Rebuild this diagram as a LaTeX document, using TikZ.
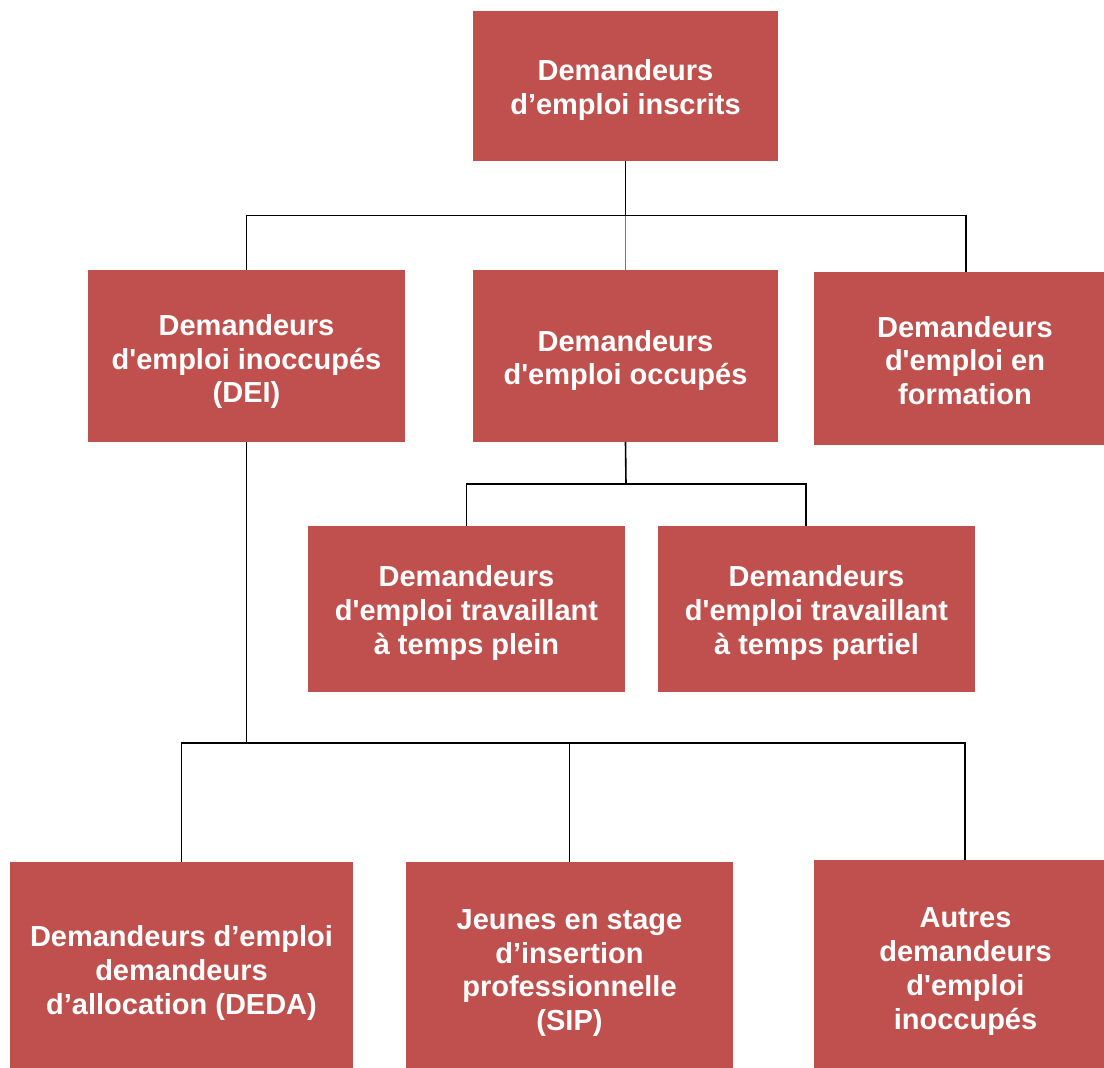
\documentclass[tikz,border=0pt]{standalone}
\usepackage{fontspec}
\newfontfamily\arialb{Liberation Sans}[BoldFont={Liberation Sans Bold}]
\definecolor{boxred}{HTML}{C0504D}
\definecolor{lineblue}{HTML}{4F81BD}
\begin{document}
\begin{tikzpicture}[x=1pt,y=-1pt,
  box/.style={fill=boxred, draw=none, inner sep=0pt},
  boxtext/.style={inner sep=0pt, align=center, text=white,
    font=\arialb\bfseries\fontsize{29}{33.7}\selectfont},
  conn/.style={draw=black, line width=1.6pt}]
\useasboundingbox (0,0) rectangle (1104,1068);
\node[box, minimum width=305pt, minimum height=150pt] (top) at (625.5,86) {};
\node[box, minimum width=317pt, minimum height=172pt] (dei) at (246.5,356) {};
\node[box, minimum width=305pt, minimum height=172pt] (occ) at (625.5,356) {};
\node[box, minimum width=290pt, minimum height=173pt] (form) at (959,358.5) {};
\node[box, minimum width=317pt, minimum height=166pt] (plein) at (466.5,609) {};
\node[box, minimum width=317pt, minimum height=166pt] (partiel) at (816.5,609) {};
\node[box, minimum width=343pt, minimum height=206pt] (deda) at (181.5,965) {};
\node[box, minimum width=327pt, minimum height=206pt] (sip) at (569.5,965) {};
\node[box, minimum width=290pt, minimum height=208pt] (autres) at (959,964) {};
\node[boxtext] (topT) at ([yshift=-4pt]top.center) {Demandeurs\\d’emploi inscrits};
\node[boxtext] (deiT) at ([yshift=-5.5pt]dei.center) {Demandeurs\\d'emploi inoccupés\\(DEI)};
\node[boxtext] (occT) at ([yshift=-4.5pt]occ.center) {Demandeurs\\d'emploi occupés};
\node[boxtext] (formT) at ([xshift=6pt,yshift=-2pt]form.center) {Demandeurs\\d'emploi en\\formation};
\node[boxtext] (pleinT) at ([yshift=-4pt]plein.center) {Demandeurs\\d'emploi travaillant\\à temps plein};
\node[boxtext] (partielT) at ([yshift=-4pt]partiel.center) {Demandeurs\\d'emploi travaillant\\à temps partiel};
\node[boxtext] (dedaT) at ([yshift=-8pt]deda.center) {Demandeurs d’emploi\\demandeurs\\d’allocation (DEDA)};
\node[boxtext] (sipT) at ([yshift=-8pt]sip.center) {Jeunes en stage\\d’insertion\\professionnelle\\(SIP)};
\node[boxtext] (autresT) at ([xshift=6.5pt,yshift=-7.5pt]autres.center) {Autres\\demandeurs\\d'emploi\\inoccupés};
\coordinate (j1) at (625.5,215.5);
\coordinate (j2) at (626,484);
\coordinate (j3) at (246.5,743);
\draw[conn] (top.south) -- (j1);
\draw[conn] (j1) -| (dei.north);
\draw[conn] (j1) -| ([xshift=7pt]form.north);
\draw[draw=lineblue, line width=1.4pt] (j1) -- (occ.north);
\draw[conn] (occ.south) -- (j2);
\draw[conn] (j2) -| (plein.north);
\draw[conn] (j2) -| ([xshift=-10.5pt]partiel.north);
\draw[conn] (dei.south) -- (j3);
\draw[conn] (j3) -| (deda.north);
\draw[conn] (j3) -| (sip.north);
\draw[conn] (j3) -| ([xshift=6pt]autres.north);
\end{tikzpicture}
\end{document}
